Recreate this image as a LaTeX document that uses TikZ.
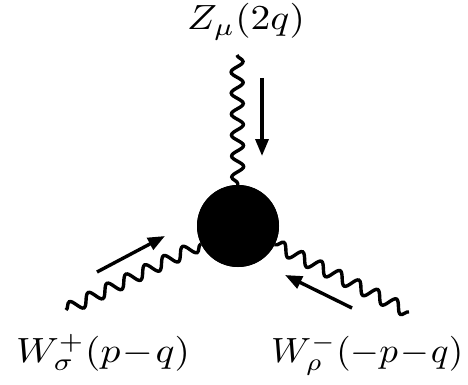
\documentclass[tikz,border=0pt]{standalone}
\usetikzlibrary{decorations.pathmorphing,arrows.meta}
\newcommand{\bigmath}[2][3.95]{\scalebox{#1}[3.5]{$#2$}}
\tikzset{
  boson/.style={line width=3.4pt, decorate, decoration={snake, segment length=21pt, amplitude=6pt}},
  mom/.style={line width=3.4pt, -{Triangle[length=17pt,width=13pt]}},
  lbl/.style={inner sep=0pt},
}
\begin{document}
\begin{tikzpicture}[x=1pt,y=-1pt]
\useasboundingbox (0,0) rectangle (468,385);
\node[circle, fill=black, minimum size=82pt, inner sep=0pt] (v) at (238,226) {};
\coordinate (zt) at (237,55);
\coordinate (wl) at (66,310);
\coordinate (wr) at (409,312);
\draw[boson] (zt) -- (v);
\draw[boson] (wl) -- (v);
\draw[boson] (wr) -- (v);
\node[circle, fill=black, minimum size=82pt, inner sep=0pt] at (v) {};
\coordinate (a1s) at (262,78);
\coordinate (a1e) at (262,156);
\coordinate (a2s) at (97,272);
\coordinate (a2e) at (165,236);
\coordinate (a3s) at (352,308);
\coordinate (a3e) at (285,275);
\draw[mom] (a1s) -- (a1e);
\draw[mom] (a2s) -- (a2e);
\draw[mom] (a3s) -- (a3e);
\node[lbl, anchor=base west] (lz) at (187,30) {\bigmath{Z_\mu(2q)}};
\node[lbl, anchor=base west] (ll) at (16,362) {\bigmath{W^+_\sigma(p\!-\!q)}};
\node[lbl, anchor=base west] (lr) at (271,362) {\bigmath[3.7]{W^-_\rho(-p\!-\!q)}};
\end{tikzpicture}
\end{document}
